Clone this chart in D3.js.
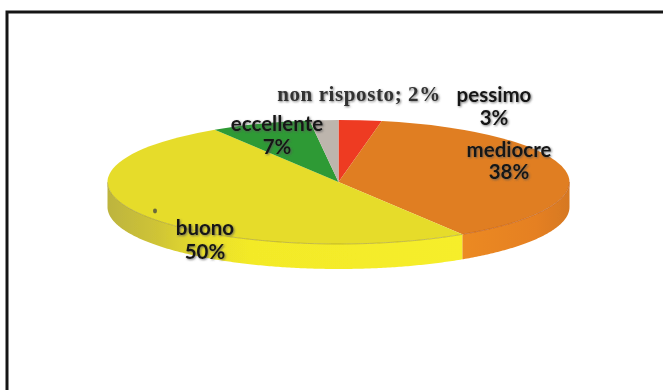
<!DOCTYPE html>
<html>
<head>
<meta charset="utf-8">
<script src="https://cdn.jsdelivr.net/npm/d3@7/dist/d3.min.js"></script>
<style>
html, body { margin: 0; padding: 0; background: #fff; }
svg { display: block; }
</style>
</head>
<body>
<svg id="chart" width="663" height="390"></svg>
<script>
// Survey answers, clockwise from twelve o'clock
const categories = ["pessimo", "mediocre", "buono", "eccellente", "non risposto"];
const shares = [3, 38, 50, 7, 2];
const topColors = ["#ee3a24", "#e07e20", "#e6dc2c", "#2f9a34", "#bdb5ad"];
const wallColors = ["#ee3a24", "url(#wallOrange)", "url(#wallYellow)", "#2f9a34", "#bdb5ad"];
const labelRows = [
  ["pessimo", "3%"],
  ["mediocre", "38%"],
  ["buono", "50%"],
  ["eccellente", "7%"],
  ["non risposto; 2%"]
];

const W = 663, H = 390;
const cx = 338.5, cy = 182, rx = 231, ry = 62, depth = 25;

const svg = d3.select("#chart");
const defs = svg.append("defs");

defs.append("filter").attr("id", "soft").attr("x", "-5%").attr("y", "-5%")
  .attr("width", "110%").attr("height", "110%")
  .append("feGaussianBlur").attr("stdDeviation", 0.45);

const halo = defs.append("filter").attr("id", "halo").attr("x", "-10%").attr("y", "-20%")
  .attr("width", "120%").attr("height", "140%");
halo.append("feGaussianBlur").attr("in", "SourceAlpha").attr("stdDeviation", 1.1).attr("result", "b");
halo.append("feOffset").attr("in", "b").attr("dx", 0.6).attr("dy", 0.8).attr("result", "o");
halo.append("feFlood").attr("flood-color", "#555").attr("flood-opacity", 0.75);
halo.append("feComposite").attr("in2", "o").attr("operator", "in").attr("result", "s");
const hm = halo.append("feMerge");
hm.append("feMergeNode").attr("in", "s");
hm.append("feMergeNode").attr("in", "SourceGraphic");

// Wall shading runs from olive on the far left to clean yellow at the front
const wallGrad = defs.append("linearGradient").attr("id", "wallYellow")
  .attr("gradientUnits", "userSpaceOnUse")
  .attr("x1", cx - rx).attr("x2", cx + 125).attr("y1", 0).attr("y2", 0);
[[0, "#bdb43e"], [0.14, "#cfc436"], [0.26, "#e6dc2a"], [0.4, "#f3ea28"], [1, "#f6ee2a"]]
  .forEach(([o, c]) => wallGrad.append("stop").attr("offset", o).attr("stop-color", c));

const wallOrange = defs.append("linearGradient").attr("id", "wallOrange")
  .attr("gradientUnits", "userSpaceOnUse")
  .attr("x1", cx + 120).attr("x2", cx + rx).attr("y1", 0).attr("y2", 0);
[[0, "#ec8a22"], [0.7, "#e58020"], [1, "#d67820"]]
  .forEach(([o, c]) => wallOrange.append("stop").attr("offset", o).attr("stop-color", c));

// Sheet frame: top and left rules run off the page
svg.append("path")
  .attr("d", d3.line()([[7, H], [7, 12], [W, 12]]))
  .attr("fill", "none").attr("stroke", "#161616").attr("stroke-width", 3);

const pie = d3.pie().sort(null).value(d => d);
const slices = pie(shares);

const px = a => cx + rx * Math.sin(a);
const py = a => cy - ry * Math.cos(a);

// Side wall of a slice, for the part of its rim facing the viewer
function wallPath(a0, a1) {
  const from = Math.max(a0, Math.PI / 2), to = Math.min(a1, 3 * Math.PI / 2);
  if (to <= from) return null;
  const angles = d3.range(from, to, 0.01).concat([to]);
  const upper = angles.map(a => [px(a), py(a)]);
  const lower = angles.slice().reverse().map(a => [px(a), py(a) + depth]);
  return d3.line()(upper.concat(lower)) + "Z";
}

const art = svg.append("g").attr("filter", "url(#soft)");

art.selectAll("path.wall").data(slices).join("path")
  .attr("class", "wall")
  .attr("d", d => wallPath(d.startAngle, d.endAngle))
  .attr("fill", (d, i) => wallColors[i]);

// Top face: a circular pie squashed into an ellipse
const arc = d3.arc().innerRadius(0).outerRadius(rx);
art.append("g")
  .attr("transform", `translate(${cx},${cy}) scale(1,${ry / rx})`)
  .selectAll("path").data(slices).join("path")
  .attr("d", arc)
  .attr("fill", (d, i) => topColors[i]);

// Thin darker lines where the top face meets the wall
function rimLine(a0, a1, colour) {
  const angles = d3.range(a0, a1, 0.01);
  art.append("path")
    .attr("d", d3.line()(angles.map(a => [px(a), py(a)])))
    .attr("fill", "none").attr("stroke", colour).attr("stroke-opacity", 0.6).attr("stroke-width", 0.9);
}
rimLine(slices[1].endAngle, 3 * Math.PI / 2, "#9a8f2c");
rimLine(Math.PI / 2, slices[1].endAngle, "#b5541c");

// Small ink speck on the printed sheet
svg.append("ellipse")
  .attr("cx", 155).attr("cy", 211).attr("rx", 2).attr("ry", 2.4)
  .attr("fill", "#6a6a3a").attr("filter", "url(#soft)");

// Data labels: [centre x, first baseline, line gap]
const labelPos = [[494, 102, 23], [509, 157, 22], [205, 235, 24], [277, 131, 23], [359, 101, 0]];
const labels = svg.append("g").attr("filter", "url(#halo)");
labelRows.forEach((rows, i) => {
  const serif = i === 4;
  const t = labels.append("text")
    .attr("text-anchor", "middle")
    .attr("font-family", serif ? "'Liberation Serif', serif" : "Lato, sans-serif")
    .attr("font-weight", 700)
    .attr("font-size", serif ? 21 : 20.5)
    .attr("letter-spacing", serif ? 0.6 : 0)
    .attr("fill", serif ? "#333" : "#151515");
  rows.forEach((r, j) => {
    t.append("tspan").attr("x", labelPos[i][0]).attr("y", labelPos[i][1] + j * labelPos[i][2]).text(r);
  });
});
</script>
</body>
</html>
